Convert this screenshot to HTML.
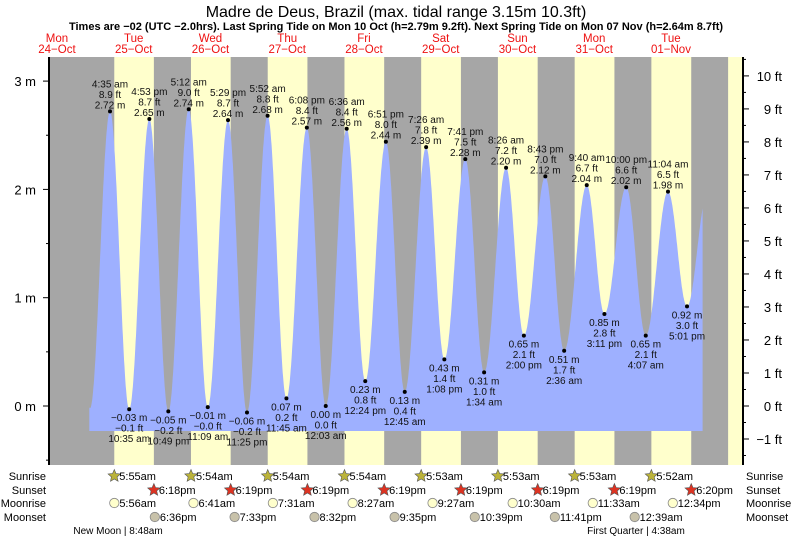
<!DOCTYPE html>
<html><head><meta charset="utf-8">
<style>
body{margin:0;background:#fff;}
svg{display:block;font-family:"Liberation Sans",Arial,sans-serif;}
</style></head>
<body>
<svg id="chart" width="793" height="539" viewBox="0 0 793 539" xmlns="http://www.w3.org/2000/svg">
<text x="396" y="17" text-anchor="middle" font-size="16">Madre de Deus, Brazil (max. tidal range 3.15m 10.3ft)</text>
<text x="396" y="30" text-anchor="middle" font-size="11" font-weight="bold">Times are −02 (UTC −2.0hrs). Last Spring Tide on Mon 10 Oct (h=2.79m 9.2ft). Next Spring Tide on Mon 07 Nov (h=2.64m 8.7ft)</text>
<g id="bands"></g>
<g id="tide"></g>
<g id="axes"></g>
<g id="labels"></g>
<g id="astro"></g>
</svg>
<script>
// ---- data ----
const dayNames = ["Mon","Tue","Wed","Thu","Fri","Sat","Sun","Mon","Tue"];
const dayDates = ["24\u2212Oct","25\u2212Oct","26\u2212Oct","27\u2212Oct","28\u2212Oct","29\u2212Oct","30\u2212Oct","31\u2212Oct","01\u2212Nov"];
const tideClock = ["22:20","4:35","10:35","16:53","22:49","5:12","11:09","17:29","23:25","5:52","11:45","18:08","0:03","6:36","12:24","18:51","0:45","7:26","13:08","19:41","1:34","8:26","14:00","20:43","2:36","9:40","15:11","22:00","4:07","11:04","17:01","23:20"];
const tideDayFull = [0,1,1,1,1,2,2,2,2,3,3,3,4,4,4,4,5,5,5,5,6,6,6,6,7,7,7,7,8,8,8,8];
const tideM = [-0.02,2.72,-0.03,2.65,-0.05,2.74,-0.01,2.64,-0.06,2.68,0.07,2.57,0.00,2.56,0.23,2.44,0.13,2.39,0.43,2.28,0.31,2.20,0.65,2.12,0.51,2.04,0.85,2.02,0.65,1.98,0.92,1.95];
const tideFt = ["","8.9","\u22120.1","8.7","\u22120.2","9.0","\u22120.0","8.7","\u22120.2","8.8","0.2","8.4","0.0","8.4","0.8","8.0","0.4","7.8","1.4","7.5","1.0","7.2","2.1","7.0","1.7","6.7","2.8","6.6","2.1","6.5","3.0",""];
const tideLabel = ["","4:35 am","10:35 am","4:53 pm","10:49 pm","5:12 am","11:09 am","5:29 pm","11:25 pm","5:52 am","11:45 am","6:08 pm","12:03 am","6:36 am","12:24 pm","6:51 pm","12:45 am","7:26 am","1:08 pm","7:41 pm","1:34 am","8:26 am","2:00 pm","8:43 pm","2:36 am","9:40 am","3:11 pm","10:00 pm","4:07 am","11:04 am","5:01 pm",""];
const sunrise = ["5:55","5:54","5:54","5:54","5:53","5:53","5:53","5:52","5:52"];
const sunset = ["18:18","18:19","18:19","18:19","18:19","18:19","18:19","18:20"];
const sunriseLbl = ["5:55am","5:54am","5:54am","5:54am","5:53am","5:53am","5:53am","5:52am"];
const sunsetLbl = ["6:18pm","6:19pm","6:19pm","6:19pm","6:19pm","6:19pm","6:19pm","6:20pm"];
const moonriseDay = [1,2,3,4,5,6,7,8];
const moonrise = ["5:56","6:41","7:31","8:27","9:27","10:30","11:33","12:34"];
const moonriseLbl = ["5:56am","6:41am","7:31am","8:27am","9:27am","10:30am","11:33am","12:34pm"];
const moonsetDay = [1,2,3,4,5,6,8];
const moonset = ["18:36","19:33","20:32","21:35","22:39","23:41","0:39"];
const moonsetLbl = ["6:36pm","7:33pm","8:32pm","9:35pm","10:39pm","11:41pm","12:39am"];
const mTicks = [0,1,2,3];
const ftTicks = [-1,0,1,2,3,4,5,6,7,8,9,10];

// ---- scales ----
const NS="http://www.w3.org/2000/svg";
const X0=18.6, PD=76.75, PL=49, PR=743, PT=57, PB=465, Y0=406, PM=108.3;
function hrs(s){const p=s.split(":");return +p[0]+ +p[1]/60;}
function xH(d,h){return X0+PD*(d+h/24);}
function yM(m){return Y0-PM*m;}
function yF(f){return Y0-PM*0.3048*f;}
function el(tag,attrs,parent,text){const e=document.createElementNS(NS,tag);for(const k in attrs)e.setAttribute(k,attrs[k]);if(text!==undefined)e.textContent=text;parent.appendChild(e);return e;}

// bands
const bands=document.getElementById('bands');
const bg=el('rect',{x:PL,y:PT,width:PR-PL,height:PB-PT,fill:'#a6a6a6'},bands);


for(let i=0;i<8;i++){
  const a=xH(i+1,hrs(sunrise[i])), b=xH(i+1,hrs(sunset[i]));
  const r=el('rect',{x:a,y:PT,width:b-a,height:PB-PT,fill:'#ffffcc'},bands);
  
  
}
{const a=xH(9,hrs(sunrise[8]));const r=el('rect',{x:a,y:PT,width:PR-a,height:PB-PT,fill:'#ffffcc'},bands);

}

// tide curve
const tide=document.getElementById('tide');
const T=tideM.map((m,i)=>tideDayFull[i]*24+hrs(tideClock[i]));
const tStart=22.1, tEnd=8*24+21.9, yBot=431;
let pts=[];
for(let t=tStart;t<=tEnd+0.001;t+=0.1){
  let k=0;while(k<T.length-2&&T[k+1]<t)k++;
  const f=(t-T[k])/(T[k+1]-T[k]);
  const m=tideM[k]+(tideM[k+1]-tideM[k])*(1-Math.cos(Math.PI*f))/2;
  pts.push([X0+PD*t/24,yM(m)]);
}
let d='M'+pts[0][0].toFixed(1)+','+yBot;
pts.forEach(p=>d+=' L'+p[0].toFixed(1)+','+p[1].toFixed(1));
d+=' L'+pts[pts.length-1][0].toFixed(1)+','+yBot+' Z';
const area=el('path',{d:d,fill:'#9eb0ff'},tide);



// labels
const lab=document.getElementById('labels');
for(let i=1;i<tideM.length-1;i++){
  const x=X0+PD*T[i]/24, y=yM(tideM[i]);
  const dot=el('circle',{cx:x,cy:y,r:2,fill:'#000'},lab);
  
  
  const high=tideM[i]>tideM[i-1];
  const mtxt=(tideM[i]<0?'\u2212':'')+Math.abs(tideM[i]).toFixed(2)+' m';
  const lines=high?[tideLabel[i],tideFt[i]+' ft',mtxt]:[mtxt,tideFt[i]+' ft',tideLabel[i]];
  const base=high?y-24:y+12;
  lines.forEach((s,j)=>{
    const t=el('text',{x:x,y:base+j*10.5,'text-anchor':'middle','font-size':10,fill:'#111'},lab,s);
    
    
  });
}

// axes
const ax=document.getElementById('axes');
el('line',{x1:PL,y1:PT,x2:PL,y2:PB,stroke:'#000','stroke-width':2},ax);
el('line',{x1:PR,y1:PT,x2:PR,y2:PB,stroke:'#000','stroke-width':2},ax);
for(let m=-0.5;m<=3.5;m+=0.5){const y=yM(m);if(y<PT||y>PB)continue;el('line',{x1:PL-(m%1===0?6:3),y1:y,x2:PL,y2:y,stroke:'#000'},ax);}
mTicks.forEach(m=>{const t=el('text',{x:36,y:yM(m)+5,'text-anchor':'end','font-size':13},ax,m+' m');

});
for(let f=-1.5;f<=10.5;f+=0.5){const y=yF(f);if(y<PT||y>PB)continue;el('line',{x1:PR,y1:y,x2:PR+(f%1===0?6:3),y2:y,stroke:'#000'},ax);}
ftTicks.forEach(f=>{const t=el('text',{x:782,y:yF(f)+5,'text-anchor':'end','font-size':13},ax,(f<0?'\u2212'+(-f):f)+' ft');

});
dayNames.forEach((n,i)=>{const x=X0+PD*(i+0.5);
const a=el('text',{x:x,y:42,'text-anchor':'middle','font-size':11.5,fill:'#ee1111'},ax,n);


const b=el('text',{x:x,y:53,'text-anchor':'middle','font-size':11.5,fill:'#ee1111'},ax,dayDates[i]);

});

// astro rows
const as=document.getElementById('astro');
const rows=[["Sunrise",480],["Sunset",494],["Moonrise",507],["Moonset",521]];
rows.forEach(r=>{
  const a=el('text',{x:46,y:r[1],'text-anchor':'end','font-size':11},as,r[0]);
  
  
  const b=el('text',{x:746,y:r[1],'font-size':11},as,r[0]);
  
  
});
function star(cx,cy,fill){let p='';for(let k=0;k<10;k++){const rr=k%2?3:6.5;const a=-Math.PI/2+k*Math.PI/5;p+=(cx+rr*Math.cos(a)).toFixed(1)+','+(cy+rr*Math.sin(a)).toFixed(1)+' ';}return el('polygon',{points:p,fill:fill,stroke:'#555','stroke-width':0.6},as);}
function item(x,y,kind,txt,name){
  let ic;
  if(kind==='sr')ic=star(x,y-4,'#bbb33a');
  else if(kind==='ss')ic=star(x,y-4,'#dd3322');
  else ic=el('circle',{cx:x,cy:y-4,r:4.7,fill:kind==='mr'?'#ffffcc':'#c8c2aa',stroke:'#888','stroke-width':0.8},as);
  
  
  const t=el('text',{x:x+5,y:y,'font-size':11},as,txt);
  
  
}
for(let i=0;i<8;i++){
  item(xH(i+1,hrs(sunrise[i])),480,'sr',sunriseLbl[i],'sunrise');
  item(xH(i+1,hrs(sunset[i])),494,'ss',sunsetLbl[i],'sunset');
}
moonrise.forEach((m,i)=>item(xH(moonriseDay[i],hrs(m)),507,'mr',moonriseLbl[i],'moonrise'));
moonset.forEach((m,i)=>item(xH(moonsetDay[i],hrs(m)),521,'ms',moonsetLbl[i],'moonset'));
const p1=el('text',{x:118,y:534,'text-anchor':'middle','font-size':10},as,'New Moon | 8:48am');


const p2=el('text',{x:636,y:534,'text-anchor':'middle','font-size':10},as,'First Quarter | 4:38am');


</script>
</body></html>
